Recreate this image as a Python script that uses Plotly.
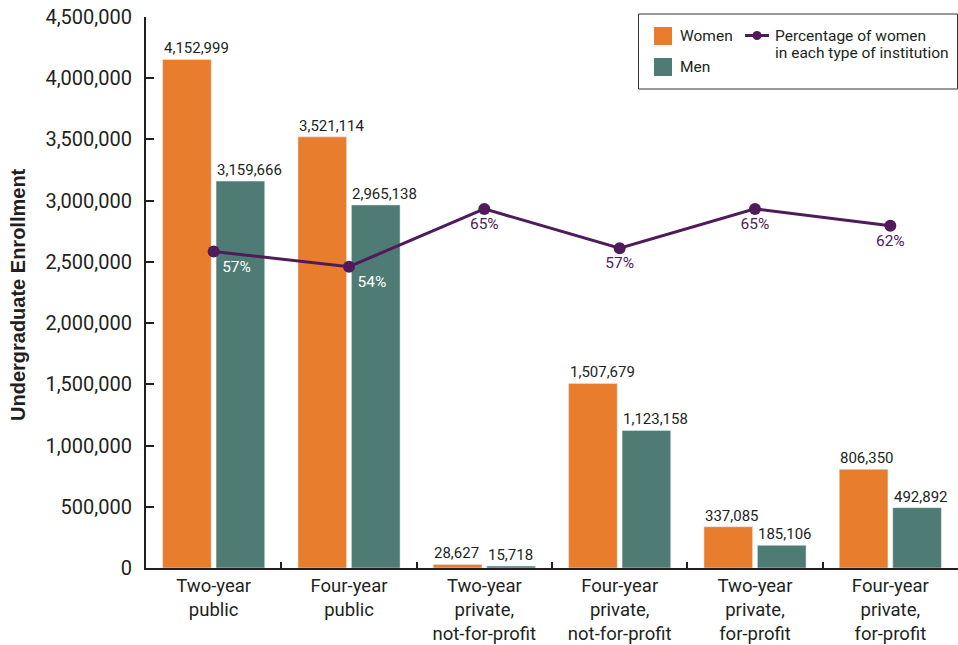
import plotly.graph_objects as go

categories = ["Two-year<br>public", "Four-year<br>public", "Two-year<br>private,<br>not-for-profit",
              "Four-year<br>private,<br>not-for-profit", "Two-year<br>private,<br>for-profit",
              "Four-year<br>private,<br>for-profit"]
women = [4152999, 3521114, 28627, 1507679, 337085, 806350]
men = [3159666, 2965138, 15718, 1123158, 185106, 492892]
pct_women = [57.0, 54.3, 64.6, 57.6, 64.6, 61.6]
pct_labels = ["57%", "54%", "65%", "57%", "65%", "62%"]
y_ticks = [0, 500000, 1000000, 1500000, 2000000, 2500000, 3000000, 3500000, 4000000, 4500000]

ORANGE = "#E87D2E"
TEAL = "#4E7B74"
PURPLE = "#4F1B5B"
TEXT = "#231F20"
FONT = "Roboto, 'Open Sans', sans-serif"

W, H = 958, 645
L, R, T, B = 146, 0, 17, 77
PW, PH = W - L - R, H - T - B
BARGAP, GROUPGAP = 0.21, 0.09


def px(x):
    return (x - L) / PW


def py(y):
    return (H - B - y) / PH


fig = go.Figure()
fig.add_trace(go.Bar(x=categories, y=women, name="Women", marker_color=ORANGE,
                     showlegend=False, hoverinfo="skip"))
fig.add_trace(go.Bar(x=categories, y=men, name="Men", marker_color=TEAL,
                     showlegend=False, hoverinfo="skip"))
fig.add_trace(go.Scatter(x=categories, y=pct_women, yaxis="y2", mode="lines+markers+text",
                         name="Percentage of women in each type of institution",
                         line=dict(color=PURPLE, width=3), marker=dict(size=12, color=PURPLE),
                         text=pct_labels,
                         textposition=["bottom right", "bottom right", "bottom center",
                                       "bottom center", "bottom center", "bottom center"],
                         textfont=dict(size=15.5, family=FONT,
                                       color=["white", "white", PURPLE, PURPLE, PURPLE, PURPLE]),
                         cliponaxis=False, showlegend=False, hoverinfo="skip"))

shapes = []
annotations = []

# bar value labels, left-aligned to each bar's left edge
cat_w = PW / len(categories)
slot = cat_w * (1 - BARGAP) / 2
pad = slot * GROUPGAP / 2
for series, shift in [(women, -slot + pad), (men, pad)]:
    for c, v in zip(categories, series):
        annotations.append(dict(x=c, y=v, xref="x", yref="y", text=f"{v:,}", showarrow=False,
                                xanchor="left", yanchor="bottom", xshift=shift - 1, yshift=0,
                                font=dict(size=15, color=TEXT, family=FONT)))

# legend box
shapes.append(dict(type="rect", xref="paper", yref="paper", x0=px(638.5), x1=px(957.5),
                   y0=py(14), y1=py(89), line=dict(color="#333333", width=1), fillcolor="white",
                   layer="above"))
shapes.append(dict(type="rect", xref="paper", yref="paper", x0=px(654), x1=px(672),
                   y0=py(27), y1=py(45), line=dict(width=0), fillcolor=ORANGE, layer="above"))
shapes.append(dict(type="rect", xref="paper", yref="paper", x0=px(654), x1=px(672),
                   y0=py(58), y1=py(76), line=dict(width=0), fillcolor=TEAL, layer="above"))
shapes.append(dict(type="line", xref="paper", yref="paper", x0=px(745), x1=px(769),
                   y0=py(35.5), y1=py(35.5), line=dict(color=PURPLE, width=3), layer="above"))
shapes.append(dict(type="circle", xref="paper", yref="paper", x0=px(752.5), x1=px(761.5),
                   y0=py(31), y1=py(40), line=dict(width=0), fillcolor=PURPLE, layer="above"))
for txt, x, y in [("Women", 678, 36), ("Men", 678, 67), ("Percentage of women", 773, 35.5),
                  ("in each type of institution", 773, 53.5)]:
    annotations.append(dict(text=txt, xref="paper", yref="paper", x=px(x), y=py(y),
                            xanchor="left", yanchor="middle", showarrow=False,
                            font=dict(size=15.5, color=TEXT, family=FONT)))
annotations.append(dict(text="<b>Undergraduate Enrollment</b>", xref="paper", yref="paper",
                        x=px(18), y=py(295), xanchor="center", yanchor="middle", textangle=-90,
                        showarrow=False,
                        font=dict(size=20, color=TEXT, family="'Liberation Sans', Arial, sans-serif")))

fig.update_layout(
    width=W, height=H, margin=dict(l=L, r=R, t=T, b=B),
    plot_bgcolor="white", paper_bgcolor="white",
    barmode="group", bargap=BARGAP, bargroupgap=GROUPGAP,
    font=dict(family=FONT, color=TEXT),
    xaxis=dict(showline=True, linecolor="#231F20", linewidth=2, ticks="inside",
               tickson="boundaries", ticklen=6, tickwidth=1.5, tickcolor="#231F20",
               tickfont=dict(size=18.5, color=TEXT, family=FONT), showgrid=False),
    yaxis=dict(range=[0, 4500000], tickvals=y_ticks, tickformat=",", showline=True,
               linecolor="#231F20", linewidth=2, ticks="inside", ticklen=8, tickwidth=1.5,
               tickcolor="#231F20", showgrid=False, zeroline=False,
               tickfont=dict(size=20, color=TEXT, family=FONT), ticklabelstandoff=8),
    yaxis2=dict(range=[0.6, 98.8], overlaying="y", visible=False),
    shapes=shapes, annotations=annotations,
)

fig.write_html("out.html")
